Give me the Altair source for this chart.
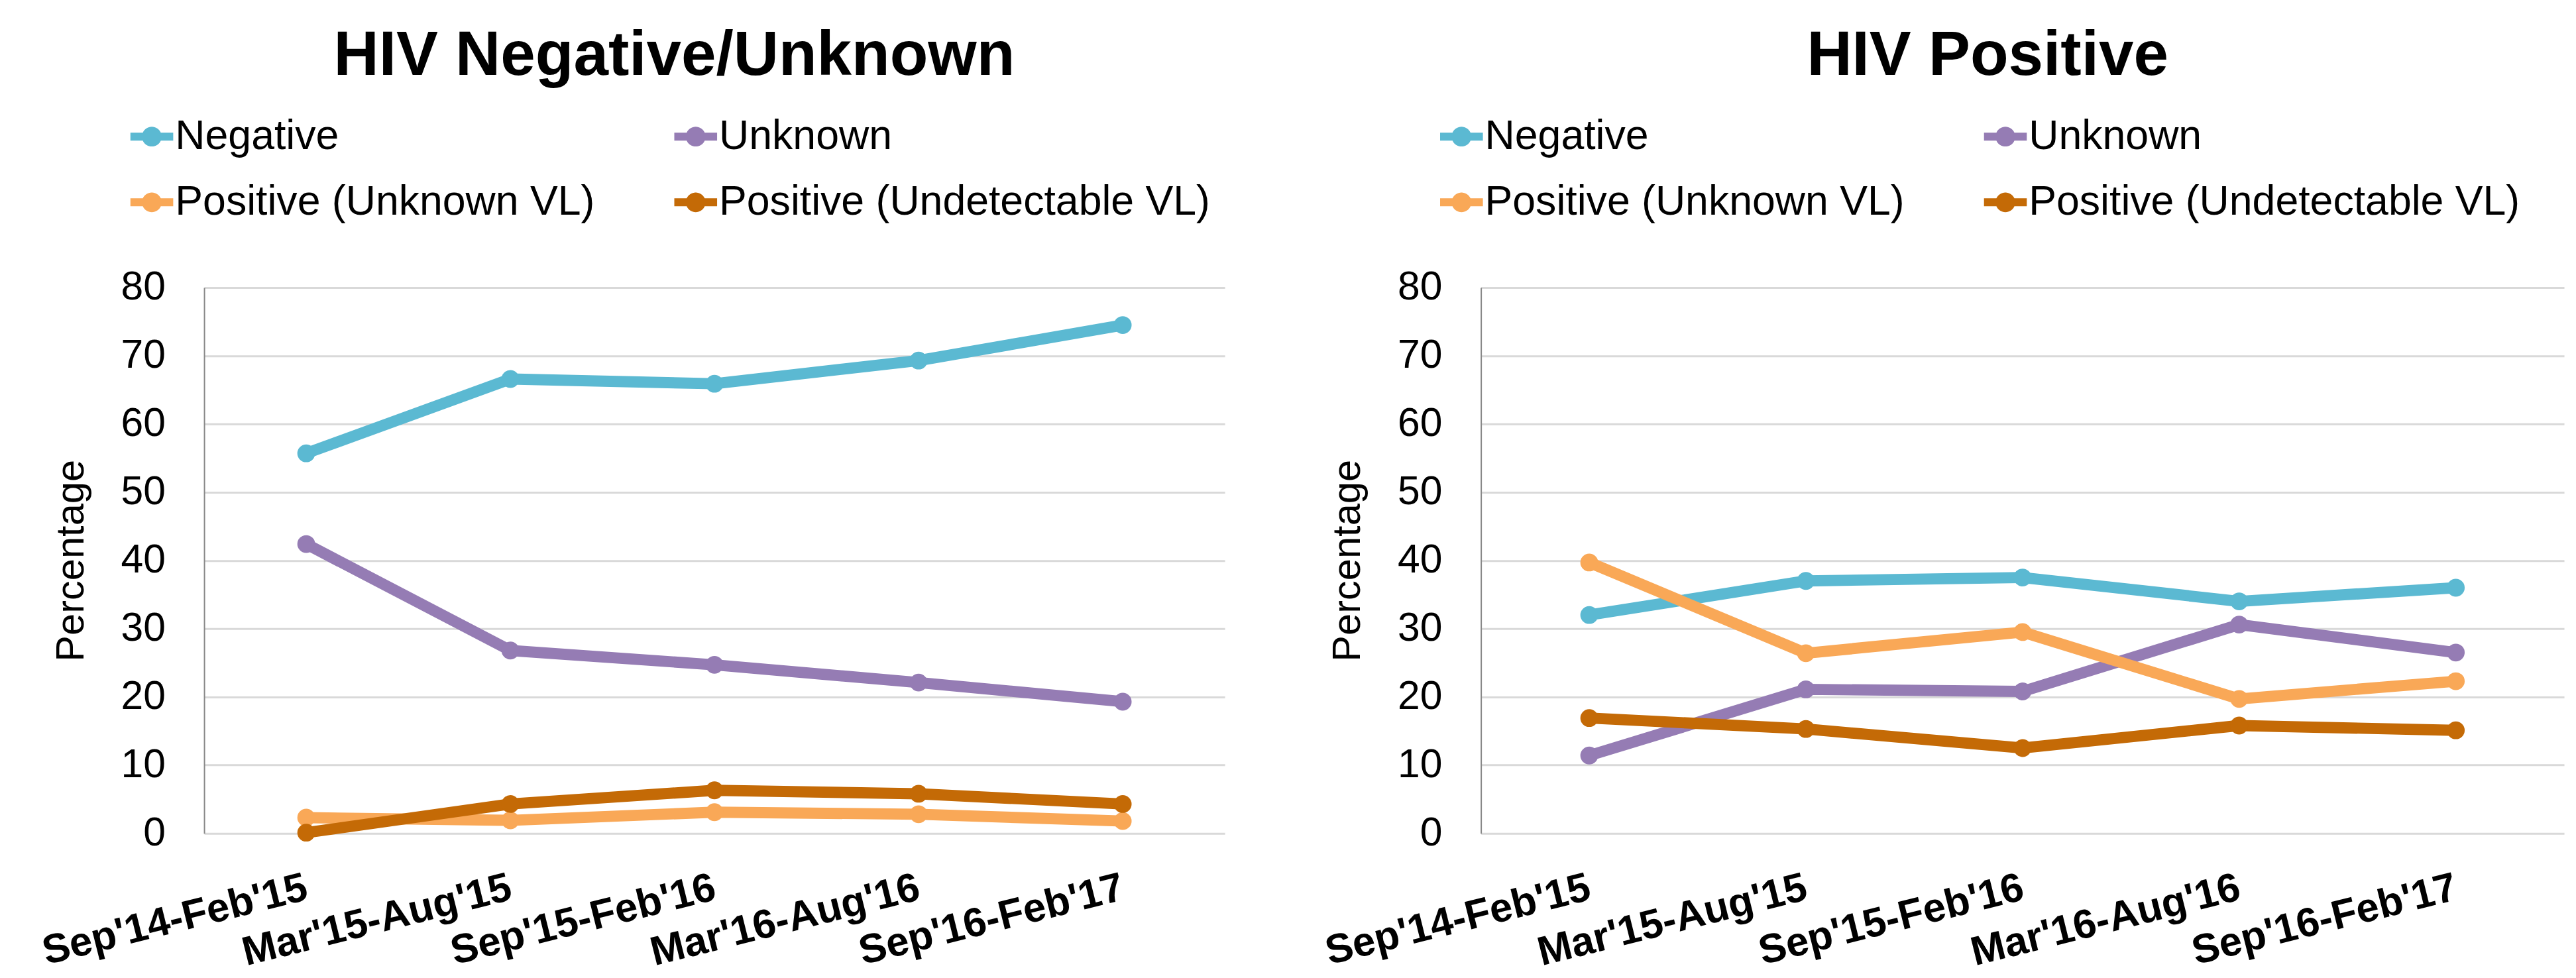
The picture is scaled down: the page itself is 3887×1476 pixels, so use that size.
import altair as alt
import pandas as pd

periods = ["Sep'14-Feb'15", "Mar'15-Aug'15", "Sep'15-Feb'16", "Mar'16-Aug'16", "Sep'16-Feb'17"]
series = ["Negative", "Unknown", "Positive (Unknown VL)", "Positive (Undetectable VL)"]
colors = ["#5BB9D2", "#957CB4", "#F9A857", "#C46A06"]
y_ticks = [0, 10, 20, 30, 40, 50, 60, 70, 80]

# HIV Negative/Unknown panel
neg_l = [55.7, 66.6, 65.9, 69.3, 74.5]
unk_l = [42.4, 26.8, 24.7, 22.1, 19.3]
posu_l = [2.3, 1.9, 3.1, 2.8, 1.8]
posd_l = [0.1, 4.3, 6.3, 5.8, 4.3]

# HIV Positive panel
neg_r = [32.0, 37.0, 37.5, 34.0, 36.0]
unk_r = [11.4, 21.1, 20.8, 30.6, 26.5]
posu_r = [39.7, 26.4, 29.5, 19.7, 22.3]
posd_r = [16.9, 15.3, 12.5, 15.8, 15.1]

FONT = "Liberation Sans"


def make_df(vals_list):
    rows = []
    for s, vals in zip(series, vals_list):
        for i, (p, v) in enumerate(zip(periods, vals)):
            rows.append({"period": p, "series": s, "value": v, "idx": i})
    return pd.DataFrame(rows)


legend_path = ("M -1 -0.185 H -0.421 A 0.46 0.46 0 0 1 0.421 -0.185 H 1 V 0.185 "
               "H 0.421 A 0.46 0.46 0 0 1 -0.421 0.185 H -1 Z")


def panel(df, title, width, legend_x, title_dx):
    x = alt.X("period:N", sort=periods,
              scale=alt.Scale(type="point", padding=0.5),
              axis=alt.Axis(title=None, labelAngle=-14, labelAlign="right",
                            labelBaseline="middle", labelPadding=81,
                            labelFontSize=62, labelFontWeight="bold",
                            labelFont=FONT, labelColor="black",
                            labelOverlap=False, labelLimit=1000,
                            ticks=False, domain=False, grid=False))
    y = alt.Y("value:Q", scale=alt.Scale(domain=[0, 80], nice=False),
              axis=alt.Axis(title="Percentage", values=y_ticks, ticks=False,
                            labelPadding=59, labelFontSize=61, labelFont=FONT,
                            labelColor="black", titleFontSize=60, titleFont=FONT,
                            titleFontWeight="normal", titleColor="black",
                            titlePadding=44, domainColor="#888888", domainWidth=2,
                            gridColor="#D9D9D9", gridWidth=3))
    base = alt.Chart(df)
    layers = []
    for s, c in zip(series, colors):
        layers.append(
            base.transform_filter(alt.datum.series == s)
            .mark_line(strokeWidth=17, strokeCap="round", strokeJoin="round", color=c)
            .encode(x=x, y=y, order=alt.Order("idx:Q"))
        )
    pts = base.mark_point(filled=True, size=730, opacity=1, shape="circle", strokeWidth=0).encode(
        x=x, y=y,
        fill=alt.Fill("series:N", scale=alt.Scale(domain=series, range=colors),
                      legend=alt.Legend(title=None, orient="none", legendX=legend_x,
                                        legendY=-262, direction="horizontal",
                                        columns=2, columnPadding=120,
                                        rowPadding=35, symbolType=legend_path,
                                        symbolSize=4225, symbolStrokeWidth=0,
                                        labelFontSize=63, labelFont=FONT,
                                        labelColor="black", labelOffset=3,
                                        labelLimit=1000, padding=0)),
    )
    layers.append(pts)
    return alt.layer(*layers).properties(
        width=width, height=829,
        title=alt.TitleParams(title, fontSize=95, font=FONT, fontWeight="bold",
                              anchor="middle", frame="group", dx=title_dx,
                              offset=41, color="black"),
    )


left = panel(make_df([neg_l, unk_l, posu_l, posd_l]), "HIV Negative/Unknown", 1550, -112, -61)
right = panel(make_df([neg_r, unk_r, posu_r, posd_r]), "HIV Positive", 1645, -62, -53)

chart = alt.hconcat(left, right, spacing=146).resolve_scale(
    fill="independent").resolve_legend(fill="independent").properties(
    padding={"left": 49, "top": 25, "right": 10, "bottom": 0}
).configure_view(stroke=None)

chart.save("out.html", embed_options={"renderer": "svg", "actions": False})
